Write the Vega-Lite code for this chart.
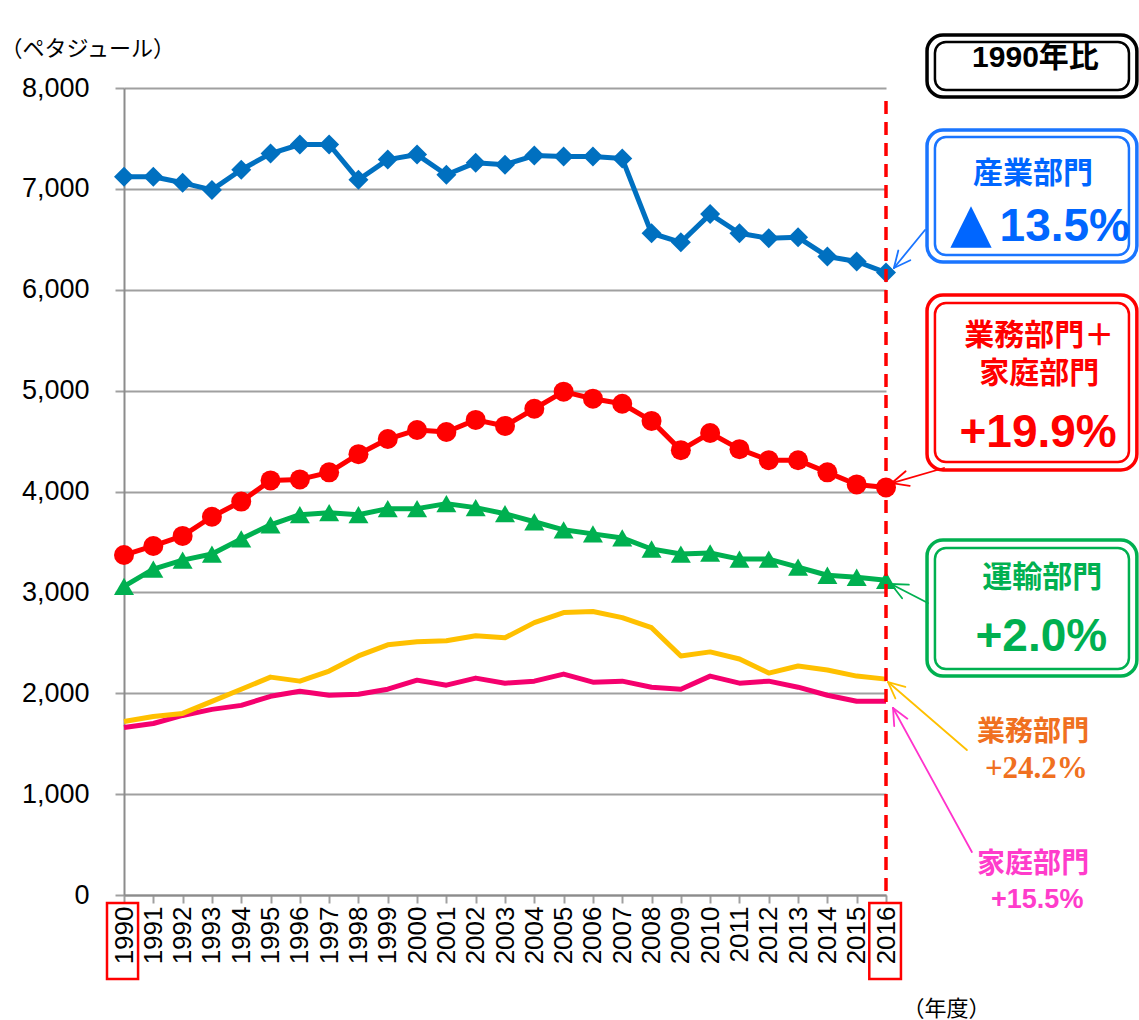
{
  "$schema": "https://vega.github.io/schema/vega-lite/v6.json",
  "width": 762,
  "height": 807,
  "autosize": {"type": "none"},
  "padding": {"left": 124, "top": 88, "right": 253, "bottom": 125},
  "background": "white",
  "config": {"view": {"stroke": null}, "font": "Liberation Sans"},
  "datasets": {
    "energy": [
      {"year": 1990, "産業部門": 7120, "業務部門＋家庭部門": 3370, "運輸部門": 3060, "業務部門": 1720, "家庭部門": 1660},
      {"year": 1991, "産業部門": 7120, "業務部門＋家庭部門": 3460, "運輸部門": 3230, "業務部門": 1770, "家庭部門": 1700},
      {"year": 1992, "産業部門": 7060, "業務部門＋家庭部門": 3560, "運輸部門": 3320, "業務部門": 1800, "家庭部門": 1780},
      {"year": 1993, "産業部門": 6990, "業務部門＋家庭部門": 3750, "運輸部門": 3380, "業務部門": 1920, "家庭部門": 1840},
      {"year": 1994, "産業部門": 7190, "業務部門＋家庭部門": 3900, "運輸部門": 3530, "業務部門": 2040, "家庭部門": 1880},
      {"year": 1995, "産業部門": 7350, "業務部門＋家庭部門": 4110, "運輸部門": 3670, "業務部門": 2160, "家庭部門": 1970},
      {"year": 1996, "産業部門": 7440, "業務部門＋家庭部門": 4120, "運輸部門": 3770, "業務部門": 2120, "家庭部門": 2020},
      {"year": 1997, "産業部門": 7440, "業務部門＋家庭部門": 4190, "運輸部門": 3790, "業務部門": 2220, "家庭部門": 1980},
      {"year": 1998, "産業部門": 7090, "業務部門＋家庭部門": 4370, "運輸部門": 3770, "業務部門": 2370, "家庭部門": 1990},
      {"year": 1999, "産業部門": 7290, "業務部門＋家庭部門": 4520, "運輸部門": 3830, "業務部門": 2480, "家庭部門": 2040},
      {"year": 2000, "産業部門": 7340, "業務部門＋家庭部門": 4610, "運輸部門": 3830, "業務部門": 2510, "家庭部門": 2130},
      {"year": 2001, "産業部門": 7140, "業務部門＋家庭部門": 4590, "運輸部門": 3880, "業務部門": 2520, "家庭部門": 2080},
      {"year": 2002, "産業部門": 7260, "業務部門＋家庭部門": 4710, "運輸部門": 3840, "業務部門": 2570, "家庭部門": 2150},
      {"year": 2003, "産業部門": 7240, "業務部門＋家庭部門": 4650, "運輸部門": 3780, "業務部門": 2550, "家庭部門": 2100},
      {"year": 2004, "産業部門": 7330, "業務部門＋家庭部門": 4820, "運輸部門": 3700, "業務部門": 2700, "家庭部門": 2120},
      {"year": 2005, "産業部門": 7320, "業務部門＋家庭部門": 4990, "運輸部門": 3620, "業務部門": 2800, "家庭部門": 2190},
      {"year": 2006, "産業部門": 7320, "業務部門＋家庭部門": 4920, "運輸部門": 3580, "業務部門": 2810, "家庭部門": 2110},
      {"year": 2007, "産業部門": 7300, "業務部門＋家庭部門": 4870, "運輸部門": 3540, "業務部門": 2750, "家庭部門": 2120},
      {"year": 2008, "産業部門": 6560, "業務部門＋家庭部門": 4700, "運輸部門": 3430, "業務部門": 2650, "家庭部門": 2060},
      {"year": 2009, "産業部門": 6470, "業務部門＋家庭部門": 4410, "運輸部門": 3380, "業務部門": 2370, "家庭部門": 2040},
      {"year": 2010, "産業部門": 6750, "業務部門＋家庭部門": 4580, "運輸部門": 3390, "業務部門": 2410, "家庭部門": 2170},
      {"year": 2011, "産業部門": 6560, "業務部門＋家庭部門": 4420, "運輸部門": 3330, "業務部門": 2340, "家庭部門": 2100},
      {"year": 2012, "産業部門": 6510, "業務部門＋家庭部門": 4310, "運輸部門": 3330, "業務部門": 2200, "家庭部門": 2120},
      {"year": 2013, "産業部門": 6520, "業務部門＋家庭部門": 4310, "運輸部門": 3250, "業務部門": 2270, "家庭部門": 2060},
      {"year": 2014, "産業部門": 6330, "業務部門＋家庭部門": 4190, "運輸部門": 3170, "業務部門": 2230, "家庭部門": 1980},
      {"year": 2015, "産業部門": 6280, "業務部門＋家庭部門": 4070, "運輸部門": 3150, "業務部門": 2170, "家庭部門": 1920},
      {"year": 2016, "産業部門": 6170, "業務部門＋家庭部門": 4040, "運輸部門": 3120, "業務部門": 2140, "家庭部門": 1920}
    ],
    "baseline": [
      {"year": 2016, "value": 7870, "value2": 0}
    ],
    "labelFrames": [
      {"year": 1989.42, "year2": 1990.48, "value": -79, "value2": -833},
      {"year": 2015.43, "year2": 2016.51, "value": -79, "value2": -833}
    ],
    "outerBoxes": [
      {"sector": "1990年比", "year": 2017.40, "year2": 2024.56, "value": 8525, "value2": 7911},
      {"sector": "産業部門", "year": 2017.40, "year2": 2024.56, "value": 7583, "value2": 6275},
      {"sector": "業務部門＋家庭部門", "year": 2017.40, "year2": 2024.56, "value": 5948, "value2": 4213},
      {"sector": "運輸部門", "year": 2017.40, "year2": 2024.56, "value": 3519, "value2": 2171}
    ],
    "innerBoxes": [
      {"sector": "1990年比", "year": 2017.67, "year2": 2024.29, "value": 8456, "value2": 7980},
      {"sector": "産業部門", "year": 2017.67, "year2": 2024.29, "value": 7514, "value2": 6344},
      {"sector": "業務部門＋家庭部門", "year": 2017.67, "year2": 2024.29, "value": 5868, "value2": 4292},
      {"sector": "運輸部門", "year": 2017.67, "year2": 2024.29, "value": 3440, "value2": 2240}
    ],
    "arrows": [
      {"sector": "産業部門", "year": 2017.33, "value": 6592, "year2": 2016.27, "value2": 6216},
      {"sector": "産業部門", "year": 2016.27, "value": 6216, "year2": 2016.83, "value2": 6293},
      {"sector": "産業部門", "year": 2016.27, "value": 6216, "year2": 2016.42, "value2": 6389},
      {"sector": "業務部門＋家庭部門", "year": 2017.98, "value": 4233, "year2": 2016.20, "value2": 4084},
      {"sector": "業務部門＋家庭部門", "year": 2016.20, "value": 4084, "year2": 2016.81, "value2": 4056},
      {"sector": "業務部門＋家庭部門", "year": 2016.20, "value": 4084, "year2": 2016.67, "value2": 4201},
      {"sector": "運輸部門", "year": 2017.43, "value": 2895, "year2": 2016.17, "value2": 3083},
      {"sector": "運輸部門", "year": 2016.17, "value": 3083, "year2": 2016.55, "value2": 2942},
      {"sector": "運輸部門", "year": 2016.17, "value": 3083, "year2": 2016.78, "value2": 3076},
      {"sector": "業務部門", "year": 2018.76, "value": 1437, "year2": 2016.07, "value2": 2111},
      {"sector": "業務部門", "year": 2016.07, "value": 2111, "year2": 2016.32, "value2": 1949},
      {"sector": "業務部門", "year": 2016.07, "value": 2111, "year2": 2016.66, "value2": 2063},
      {"sector": "家庭部門", "year": 2018.93, "value": 426, "year2": 2016.24, "value2": 1854},
      {"sector": "家庭部門", "year": 2016.24, "value": 1854, "year2": 2016.28, "value2": 1675},
      {"sector": "家庭部門", "year": 2016.24, "value": 1854, "year2": 2016.73, "value2": 1748}
    ],
    "compareTitle": [
      {"sector": "1990年比", "label": "1990年比", "year": 2021.1, "value": 8300}
    ],
    "boxTitles": [
      {"sector": "産業部門", "label": "産業部門", "year": 2021.02, "value": 7150},
      {"sector": "業務部門＋家庭部門", "label": "業務部門＋\n家庭部門", "year": 2021.23, "value": 5545},
      {"sector": "運輸部門", "label": "運輸部門", "year": 2021.33, "value": 3145}
    ],
    "triangleMark": [
      {"sector": "産業部門", "label": "▲", "year": 2018.9, "value": 6640}
    ],
    "boxPercents": [
      {"sector": "産業部門", "label": "13.5%", "year": 2022.1, "value": 6622},
      {"sector": "業務部門＋家庭部門", "label": "+19.9%", "year": 2021.19, "value": 4580},
      {"sector": "運輸部門", "label": "+2.0%", "year": 2021.3, "value": 2558}
    ],
    "sideTitles": [
      {"sector": "業務部門", "label": "業務部門", "year": 2021.02, "value": 1610},
      {"sector": "家庭部門", "label": "家庭部門", "year": 2021.02, "value": 300}
    ],
    "commercePercent": [
      {"sector": "業務部門", "label": "+24.2%", "year": 2021.13, "value": 1249}
    ],
    "householdPercent": [
      {"sector": "家庭部門", "label": "+15.5%", "year": 2021.16, "value": -50}
    ]
  },
  "encoding": {
    "x": {
      "field": "year",
      "type": "quantitative",
      "scale": {"domain": [1990, 2016], "nice": false, "zero": false},
      "axis": {
        "values": [1990,1991,1992,1993,1994,1995,1996,1997,1998,1999,2000,2001,2002,2003,2004,2005,2006,2007,2008,2009,2010,2011,2012,2013,2014,2015,2016],
        "format": "d",
        "labelAngle": -90,
        "labelAlign": "right",
        "labelBaseline": "middle",
        "labelFontSize": 26,
        "labelColor": "#000000",
        "labelPadding": 3,
        "labelOverlap": false,
        "labelFlush": false,
        "grid": false,
        "domainColor": "#8C8C8C",
        "domainWidth": 2,
        "tickColor": "#A0A0A0",
        "tickWidth": 2,
        "tickSize": 8,
        "title": "（年度）",
        "titleFont": "Noto Sans CJK JP",
        "titleFontSize": 22,
        "titleFontWeight": "normal",
        "titleColor": "#000000",
        "titleAngle": 0,
        "titleAlign": "left",
        "titleBaseline": "middle",
        "titleX": 778,
        "titleY": 113
      }
    },
    "y": {
      "field": "value",
      "type": "quantitative",
      "scale": {"domain": [0, 8000], "nice": false},
      "axis": {
        "values": [0,1000,2000,3000,4000,5000,6000,7000,8000],
        "format": ",d",
        "labelFontSize": 27,
        "labelColor": "#000000",
        "labelPadding": 26,
        "grid": true,
        "gridColor": "#A0A0A0",
        "gridWidth": 2,
        "domainColor": "#8C8C8C",
        "domainWidth": 2,
        "tickColor": "#A0A0A0",
        "tickWidth": 2,
        "tickSize": 9,
        "title": "（ペタジュール）",
        "titleFont": "Noto Sans CJK JP",
        "titleFontSize": 22,
        "titleFontWeight": "normal",
        "titleColor": "#000000",
        "titleAngle": 0,
        "titleAlign": "left",
        "titleBaseline": "middle",
        "titleX": -124,
        "titleY": -40
      }
    }
  },
  "layer": [
    {
      "data": {"name": "energy"},
      "transform": [{"fold": ["家庭部門", "業務部門", "運輸部門", "業務部門＋家庭部門", "産業部門"], "as": ["sector", "value"]}],
      "mark": {"type": "line", "strokeWidth": 5, "strokeJoin": "round"},
      "encoding": {
        "color": {
          "field": "sector",
          "type": "nominal",
          "scale": {"domain": ["産業部門", "業務部門＋家庭部門", "運輸部門", "業務部門", "家庭部門"], "range": ["#0070C0", "#FF0000", "#00B050", "#FFC000", "#F5006E"]},
          "legend": null
        },
        "order": {"field": "sector", "sort": "ascending"}
      }
    },
    {
      "data": {"name": "energy"},
      "transform": [{"fold": ["運輸部門", "業務部門＋家庭部門", "産業部門"], "as": ["sector", "value"]}],
      "mark": {"type": "point", "filled": true, "opacity": 1, "size": 400, "strokeWidth": 0},
      "encoding": {
        "color": {
          "field": "sector",
          "type": "nominal",
          "scale": {"domain": ["産業部門", "業務部門＋家庭部門", "運輸部門", "業務部門", "家庭部門"], "range": ["#0070C0", "#FF0000", "#00B050", "#FFC000", "#F5006E"]},
          "legend": null
        },
        "shape": {
          "field": "sector",
          "type": "nominal",
          "scale": {"domain": ["産業部門", "業務部門＋家庭部門", "運輸部門"], "range": ["diamond", "circle", "triangle-up"]},
          "legend": null
        }
      }
    },
    {
      "data": {"name": "baseline"},
      "mark": {"type": "rule", "color": "#FF0000", "strokeWidth": 3.5, "strokeDash": [13, 8]},
      "encoding": {"y2": {"field": "value2"}}
    },
    {
      "data": {"name": "labelFrames"},
      "mark": {"type": "rect", "stroke": "#FF0000", "strokeWidth": 2.5, "fillOpacity": 0, "fill": "white"},
      "encoding": {"x2": {"field": "year2"}, "y2": {"field": "value2"}}
    },
    {
      "data": {"name": "outerBoxes"},
      "mark": {"type": "rect", "strokeWidth": 3.5, "fill": "white", "fillOpacity": 0, "cornerRadius": 16},
      "encoding": {
        "x2": {"field": "year2"},
        "y2": {"field": "value2"},
        "stroke": {
          "field": "sector",
          "type": "nominal",
          "scale": {"domain": ["1990年比", "産業部門", "業務部門＋家庭部門", "運輸部門", "業務部門", "家庭部門"], "range": ["#000000", "#1A75FF", "#FF0000", "#00B050", "#FFC000", "#FF33CC"]},
          "legend": null
        }
      }
    },
    {
      "data": {"name": "innerBoxes"},
      "mark": {"type": "rect", "strokeWidth": 2.5, "fill": "white", "fillOpacity": 0, "cornerRadius": 11},
      "encoding": {
        "x2": {"field": "year2"},
        "y2": {"field": "value2"},
        "stroke": {
          "field": "sector",
          "type": "nominal",
          "scale": {"domain": ["1990年比", "産業部門", "業務部門＋家庭部門", "運輸部門", "業務部門", "家庭部門"], "range": ["#000000", "#1A75FF", "#FF0000", "#00B050", "#FFC000", "#FF33CC"]},
          "legend": null
        }
      }
    },
    {
      "data": {"name": "arrows"},
      "mark": {"type": "rule", "strokeWidth": 1.8, "strokeCap": "round"},
      "encoding": {
        "x2": {"field": "year2"},
        "y2": {"field": "value2"},
        "stroke": {
          "field": "sector",
          "type": "nominal",
          "scale": {"domain": ["1990年比", "産業部門", "業務部門＋家庭部門", "運輸部門", "業務部門", "家庭部門"], "range": ["#000000", "#1A75FF", "#FF0000", "#00B050", "#FFC000", "#FF33CC"]},
          "legend": null
        }
      }
    },
    {
      "data": {"name": "compareTitle"},
      "mark": {"type": "text", "font": "Liberation Sans, Noto Sans CJK JP", "fontWeight": "bold", "fontSize": 30, "align": "center", "baseline": "middle", "color": "#000000"},
      "encoding": {"text": {"field": "label"}}
    },
    {
      "data": {"name": "boxTitles"},
      "mark": {"type": "text", "font": "Noto Sans CJK JP", "fontWeight": "bold", "fontSize": 30, "align": "center", "baseline": "middle", "lineBreak": "\n", "lineHeight": 38},
      "encoding": {
        "text": {"field": "label"},
        "fill": {
          "field": "sector",
          "type": "nominal",
          "scale": {"domain": ["1990年比", "産業部門", "業務部門＋家庭部門", "運輸部門", "業務部門", "家庭部門"], "range": ["#000000", "#0066FF", "#FF0000", "#00B050", "#F07020", "#FF3CCB"]},
          "legend": null
        }
      }
    },
    {
      "data": {"name": "triangleMark"},
      "mark": {"type": "text", "font": "DejaVu Sans", "fontWeight": "bold", "fontSize": 54, "align": "center", "baseline": "middle"},
      "encoding": {
        "text": {"field": "label"},
        "fill": {
          "field": "sector",
          "type": "nominal",
          "scale": {"domain": ["1990年比", "産業部門", "業務部門＋家庭部門", "運輸部門", "業務部門", "家庭部門"], "range": ["#000000", "#0066FF", "#FF0000", "#00B050", "#F07020", "#FF3CCB"]},
          "legend": null
        }
      }
    },
    {
      "data": {"name": "boxPercents"},
      "mark": {"type": "text", "font": "Liberation Sans", "fontWeight": "bold", "fontSize": 46, "align": "center", "baseline": "middle"},
      "encoding": {
        "text": {"field": "label"},
        "fill": {
          "field": "sector",
          "type": "nominal",
          "scale": {"domain": ["1990年比", "産業部門", "業務部門＋家庭部門", "運輸部門", "業務部門", "家庭部門"], "range": ["#000000", "#0066FF", "#FF0000", "#00B050", "#F07020", "#FF3CCB"]},
          "legend": null
        }
      }
    },
    {
      "data": {"name": "sideTitles"},
      "mark": {"type": "text", "font": "Noto Sans CJK JP", "fontWeight": "bold", "fontSize": 28, "align": "center", "baseline": "middle"},
      "encoding": {
        "text": {"field": "label"},
        "fill": {
          "field": "sector",
          "type": "nominal",
          "scale": {"domain": ["1990年比", "産業部門", "業務部門＋家庭部門", "運輸部門", "業務部門", "家庭部門"], "range": ["#000000", "#0066FF", "#FF0000", "#00B050", "#F07020", "#FF3CCB"]},
          "legend": null
        }
      }
    },
    {
      "data": {"name": "commercePercent"},
      "mark": {"type": "text", "font": "Liberation Serif", "fontWeight": "bold", "fontSize": 31, "align": "center", "baseline": "middle"},
      "encoding": {
        "text": {"field": "label"},
        "fill": {
          "field": "sector",
          "type": "nominal",
          "scale": {"domain": ["1990年比", "産業部門", "業務部門＋家庭部門", "運輸部門", "業務部門", "家庭部門"], "range": ["#000000", "#0066FF", "#FF0000", "#00B050", "#F07020", "#FF3CCB"]},
          "legend": null
        }
      }
    },
    {
      "data": {"name": "householdPercent"},
      "mark": {"type": "text", "font": "Liberation Sans", "fontWeight": "bold", "fontSize": 27, "align": "center", "baseline": "middle"},
      "encoding": {
        "text": {"field": "label"},
        "fill": {
          "field": "sector",
          "type": "nominal",
          "scale": {"domain": ["1990年比", "産業部門", "業務部門＋家庭部門", "運輸部門", "業務部門", "家庭部門"], "range": ["#000000", "#0066FF", "#FF0000", "#00B050", "#F07020", "#FF3CCB"]},
          "legend": null
        }
      }
    }
  ]
}
